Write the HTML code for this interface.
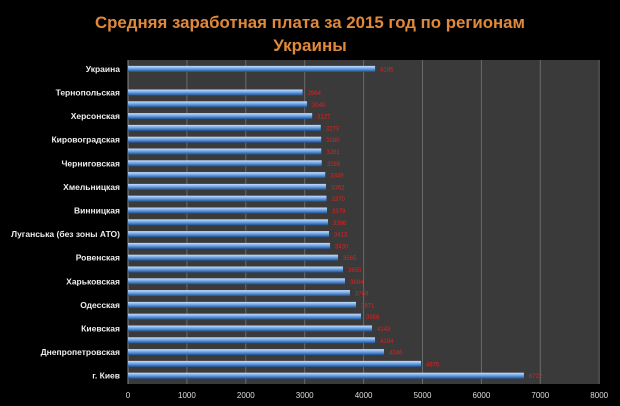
<!DOCTYPE html><html><head><meta charset="utf-8"><style>body{margin:0;background:#000}svg{display:block}</style></head><body>
<svg id="s" width="620" height="406" xmlns="http://www.w3.org/2000/svg" font-family="Liberation Sans, sans-serif">
<defs><linearGradient id="g" x1="0" y1="0" x2="0" y2="1"><stop offset="0" stop-color="#c8e0ff"/><stop offset="0.45" stop-color="#6fa5e6"/><stop offset="1" stop-color="#1d4f8f"/></linearGradient></defs>
<rect width="620" height="406" fill="#000"/>
<text x="310" y="28" text-anchor="middle" font-size="17" font-weight="bold" fill="#e0893a" textLength="430" lengthAdjust="spacingAndGlyphs">Средняя заработная плата  за 2015 год по регионам</text>
<text x="310" y="51" text-anchor="middle" font-size="17" font-weight="bold" fill="#e0893a">Украины</text>
<rect x="128" y="60" width="471" height="324" fill="#3a3a3a"/>
</svg>
<script>
var s=document.getElementById('s'),ns='http://www.w3.org/2000/svg';
function el(t,a,txt){var e=document.createElementNS(ns,t);for(var k in a)e.setAttribute(k,a[k]);if(txt!==undefined)e.textContent=txt;s.appendChild(e);return e;}
var x0=128,k=0.0589;
for(var i=0;i<=8;i++){var x=x0+i*1000*k;el('line',{x1:x,y1:60,x2:x,y2:384,stroke:'#6a6a6a','stroke-width':1});el('text',{x:x,y:398,'text-anchor':'middle','font-size':8,fill:'#ddd'},i*1000);}
el('line',{x1:128,y1:60,x2:128,y2:384,stroke:'#888'});
var vals=[2964,3040,3127,3273,3280,3281,3289,3349,3362,3370,3379,3396,3413,3430,3565,3650,3684,3769,3871,3956,4143,4194,4346,4975,6722];
var names={2:'Тернопольская',4:'Херсонская',6:'Кировоградская',8:'Черниговская',10:'Хмельницкая',12:'Винницкая',14:'Луганська (без зоны АТО)',16:'Ровенская',18:'Харьковская',20:'Одесская',22:'Киевская',24:'Днепропетровская',26:'г. Киев'};
function bar(i,v){var y=63+11.8*i+5.9;var w=v*k;el('rect',{x:x0,y:y-3,width:w,height:6,fill:'url(#g)'});el('text',{x:x0+w+5,y:y+2.5,'font-size':6,fill:'#e02020'},v);}
bar(0,4195);el('text',{x:120,y:72,'text-anchor':'end','font-size':8.5,'font-weight':'bold',fill:'#eee'},'Украина');
vals.forEach(function(v,j){bar(j+2,v);});
for(var i in names){var y=63+11.8*i+5.9+3;el('text',{x:120,y:y,'text-anchor':'end','font-size':8.5,'font-weight':'bold',fill:'#eee'},names[i]);}
</script>
</body></html>
